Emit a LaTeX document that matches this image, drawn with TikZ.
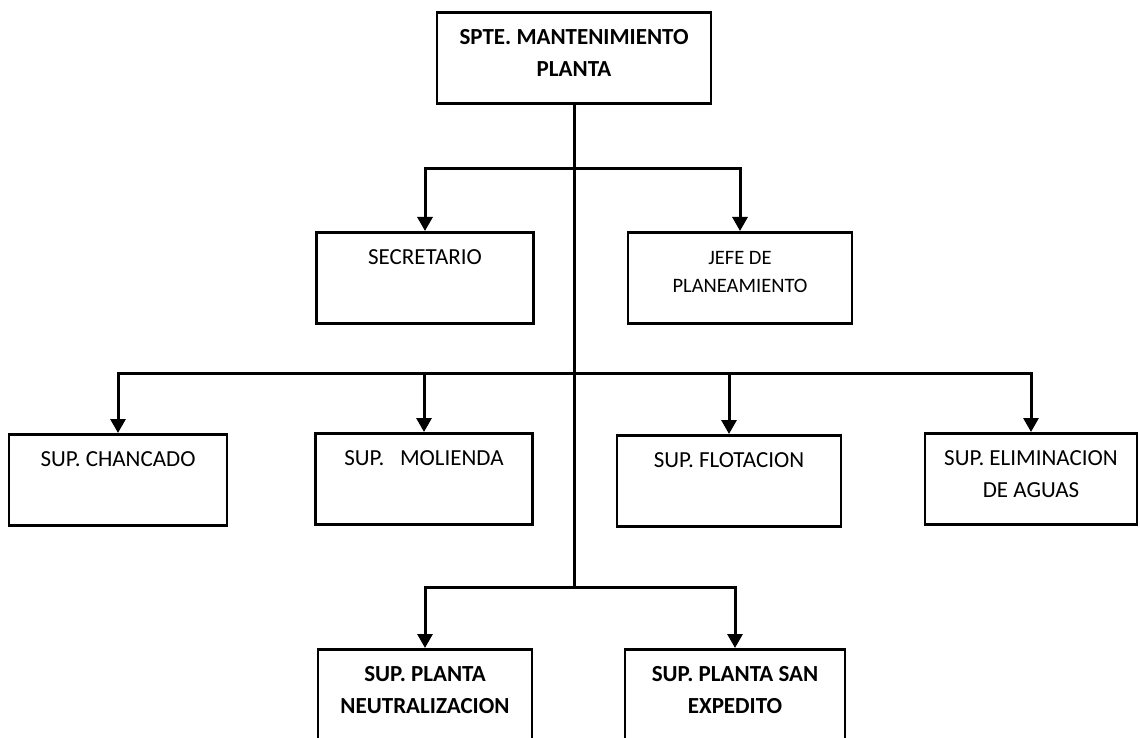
\documentclass[tikz,border=0pt]{standalone}
\usepackage{fontspec}
\setmainfont{Carlito}
\usetikzlibrary{arrows.meta}

% text of a box, set from its top edge
\newcommand{\cajatexto}[3][91pt]{\parbox[c][#1][t]{#2}{\centering\rule{0pt}{32pt}#3}}

\begin{document}
\begin{tikzpicture}[line cap=butt,line join=miter,>={Triangle[width=15pt,length=14pt]},x=1pt,y=-1pt,
    font=\fontsize{23}{32}\selectfont]
    \tikzset{caja/.style={draw, line width=2.6pt, inner sep=0pt, anchor=north},
             linea/.style={line width=3pt}}
    \useasboundingbox[fill=white] (0,0) rectangle (1140,738);
    \clip (0,0) rectangle (1140,738);

    \node[caja] (spte) at (574,11) {\cajatexto{274pt}{\bfseries SPTE. MANTENIMIENTO\\ PLANTA}};

    \node[caja] (secr) at (425,231) {\cajatexto{217pt}{SECRETARIO}};
    \node[caja] (jefe) at (740,231) {\cajatexto{224pt}{\fontsize{20.5}{28}\selectfont JEFE DE\\ PLANEAMIENTO}};

    \node[caja] (chanc) at (118,433) {\cajatexto{218pt}{SUP. CHANCADO}};
    \node[caja] (mol) at (424,432) {\cajatexto{217pt}{SUP.\ \ \ MOLIENDA}};
    \node[caja] (flot) at (729,434) {\cajatexto{224pt}{SUP. FLOTACION}};
    \node[caja] (elim) at (1031,432) {\cajatexto{212pt}{SUP. ELIMINACION\\ DE AGUAS}};

    \node[caja] (neut) at (425,648) {\cajatexto[130pt]{214pt}{\bfseries SUP. PLANTA\\ NEUTRALIZACION}};
    \node[caja] (sexp) at (735,648) {\cajatexto[130pt]{220pt}{\bfseries SUP. PLANTA SAN\\ EXPEDITO}};

    \coordinate (n1) at (574,169);
    \coordinate (n2) at (574,373);
    \coordinate (n3) at (574,587);

    \draw[linea] (spte.south) -- (n3);
    \draw[linea,->] (n1) -| (secr.north);
    \draw[linea,->] (n1) -| (jefe.north);
    \draw[linea,->] (n2) -| (chanc.north);
    \draw[linea,->] (n2) -| (mol.north);
    \draw[linea,->] (n2) -| (flot.north);
    \draw[linea,->] (n2) -| (elim.north);
    \draw[linea,->] (n3) -| (neut.north);
    \draw[linea,->] (n3) -| (sexp.north);
\end{tikzpicture}
\end{document}
